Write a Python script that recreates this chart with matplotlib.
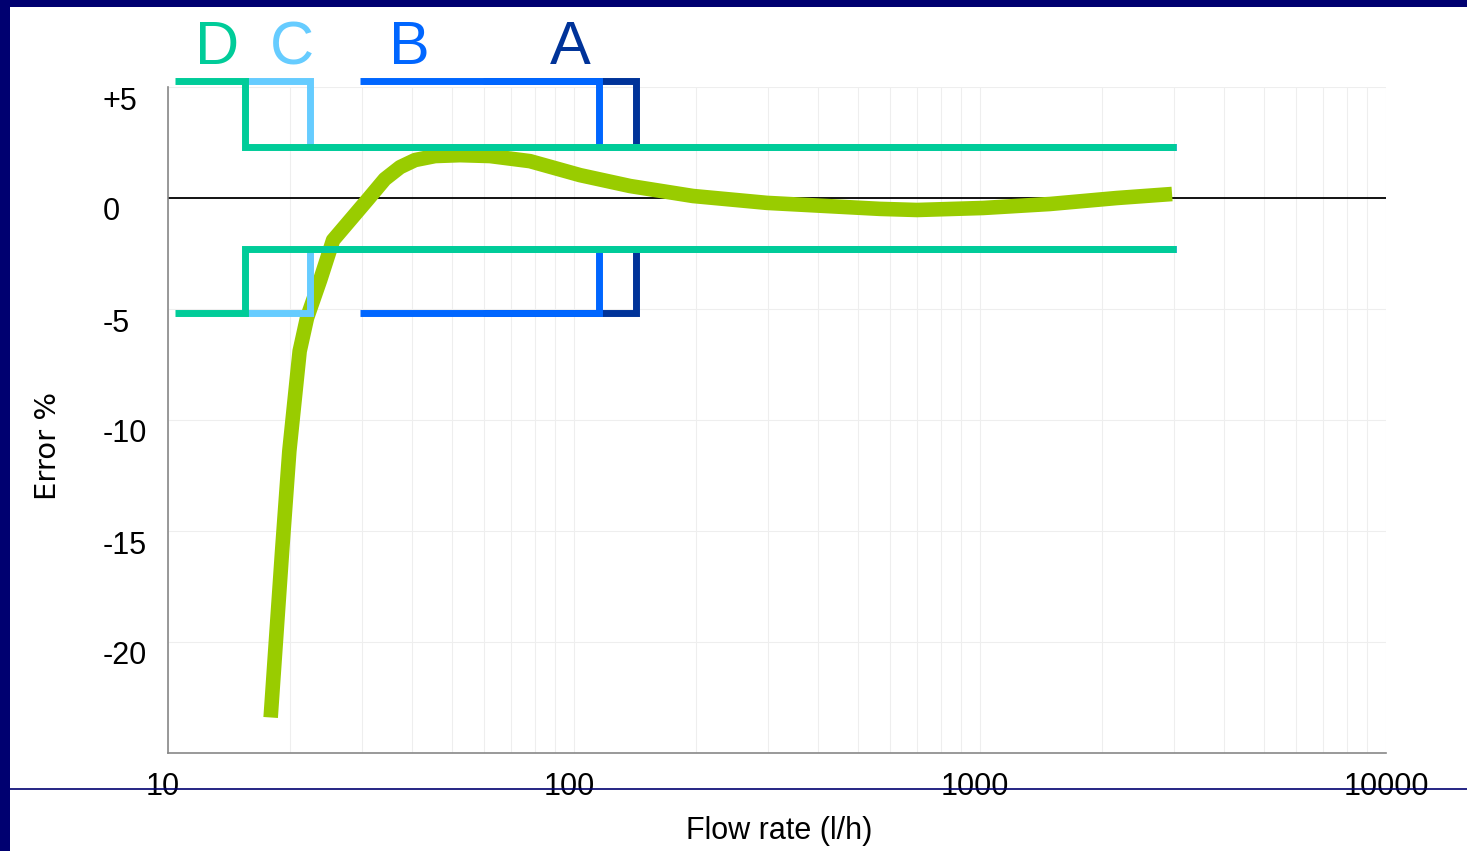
import matplotlib.pyplot as plt
import matplotlib.transforms as mtransforms
from matplotlib.patches import Rectangle
from matplotlib.lines import Line2D

# meter error curve
flow = [17.9, 19.1, 19.9, 21.1, 22.0, 23.7, 25.5, 31.1, 34.2, 37.3, 40.6, 45.5, 52.4,
        62.1, 77.9, 103.5, 137.4, 196.4, 298.8, 567, 699.5, 1017, 1487, 2175, 2972]
error = [-23.4, -15.9, -11.4, -6.9, -5.4, -3.7, -1.9, -0.05, 0.85, 1.39, 1.71, 1.89, 1.93,
         1.89, 1.66, 1.03, 0.54, 0.09, -0.22, -0.49, -0.54, -0.45, -0.27, 0.0, 0.18]

# accuracy classes (drawn A first, D on top)
band_names = ['A', 'B', 'C', 'D']
band_colors = ['#003399', '#0066FF', '#66CCFF', '#00CC99']
band_start = [59.7, 29.7, 15.5, 10.4]
band_step = [142, 115.3, 22.4, 15.5]
band_end = 3040
outer_hi, outer_lo = 5.28, -5.2
inner_hi, inner_lo = 2.28, -2.3
letter_x = [97.8, 39.4, 20.2, 13.2]
letter_y = 6.72

yticks = [5, 0, -5, -10, -15, -20]
ytick_labels = ['+5', '0', '-5', '-10', '-15', '-20']
xticks = [10, 100, 1000, 10000]
xtick_labels = ['10', '100', '1000', '10000']

font = 'Liberation Sans'

fig = plt.figure(figsize=(14.67, 8.51), dpi=100)
ax = fig.add_axes([168/1467, 98/851, 1218/1467, 666/851])
ax.set_xscale('log')
ax.set_xlim(10, 10000)
ax.set_ylim(-25, 5)

ax.grid(True, which='both', axis='x', color='#eeeeee', lw=0.8, zorder=0)
ax.grid(True, which='major', axis='y', color='#eeeeee', lw=0.8, zorder=0)
ax.set_axisbelow(True)
for s in ['top', 'right']:
    ax.spines[s].set_visible(False)
for s in ['left', 'bottom']:
    ax.spines[s].set_color('#888888')
    ax.spines[s].set_linewidth(1.2)

ax.axhline(0, color='black', lw=1.3, zorder=1)

ax.plot(flow, error, color='#99CC00', lw=10.5, solid_capstyle='butt',
        solid_joinstyle='round', zorder=2)

for i, name in enumerate(band_names):
    xs = [band_start[i], band_step[i], band_step[i], band_end]
    ax.plot(xs, [outer_hi, outer_hi, inner_hi, inner_hi], color=band_colors[i],
            lw=5, solid_capstyle='butt', solid_joinstyle='miter', clip_on=False, zorder=3 + i)
    ax.plot(xs, [outer_lo, outer_lo, inner_lo, inner_lo], color=band_colors[i],
            lw=5, solid_capstyle='butt', solid_joinstyle='miter', clip_on=False, zorder=3 + i)
    ax.text(letter_x[i], letter_y, name, color=band_colors[i], fontsize=44, family=font,
            ha='center', va='center', clip_on=False)

ax.set_yticks(yticks)
ax.set_yticklabels(ytick_labels, fontsize=22, family=font, ha='left')
ax.tick_params(axis='y', length=0, pad=47)
offset = mtransforms.ScaledTranslation(0, -11/100, fig.dpi_scale_trans)
for lab in ax.get_yticklabels():
    lab.set_transform(lab.get_transform() + offset)

ax.set_xticks(xticks)
ax.set_xticklabels(xtick_labels, fontsize=22, family=font)
ax.tick_params(axis='x', which='both', length=0, pad=14)
xoff = mtransforms.ScaledTranslation(-5/100, 0, fig.dpi_scale_trans)
for lab in ax.get_xticklabels()[:-1]:
    lab.set_transform(lab.get_transform() + xoff)

fig.text(779/1467, 1 - 831/851, 'Flow rate (l/h)', fontsize=22, family=font,
         ha='center', va='center')
fig.text(48/1467, 1 - 446/851, 'Error %', fontsize=21, family='DejaVu Sans',
         rotation=90, ha='center', va='center')

# slide frame
navy = '#000070'
fig.add_artist(Rectangle((0, 1 - 7/851), 1, 7/851, transform=fig.transFigure,
                         color=navy, lw=0))
fig.add_artist(Rectangle((0, 0), 10/1467, 1, transform=fig.transFigure,
                         color=navy, lw=0))
fig.add_artist(Line2D([10/1467, 1], [1 - 789/851, 1 - 789/851], transform=fig.transFigure,
                      color=navy, lw=1.2))

fig.savefig('out.png', dpi=100)
